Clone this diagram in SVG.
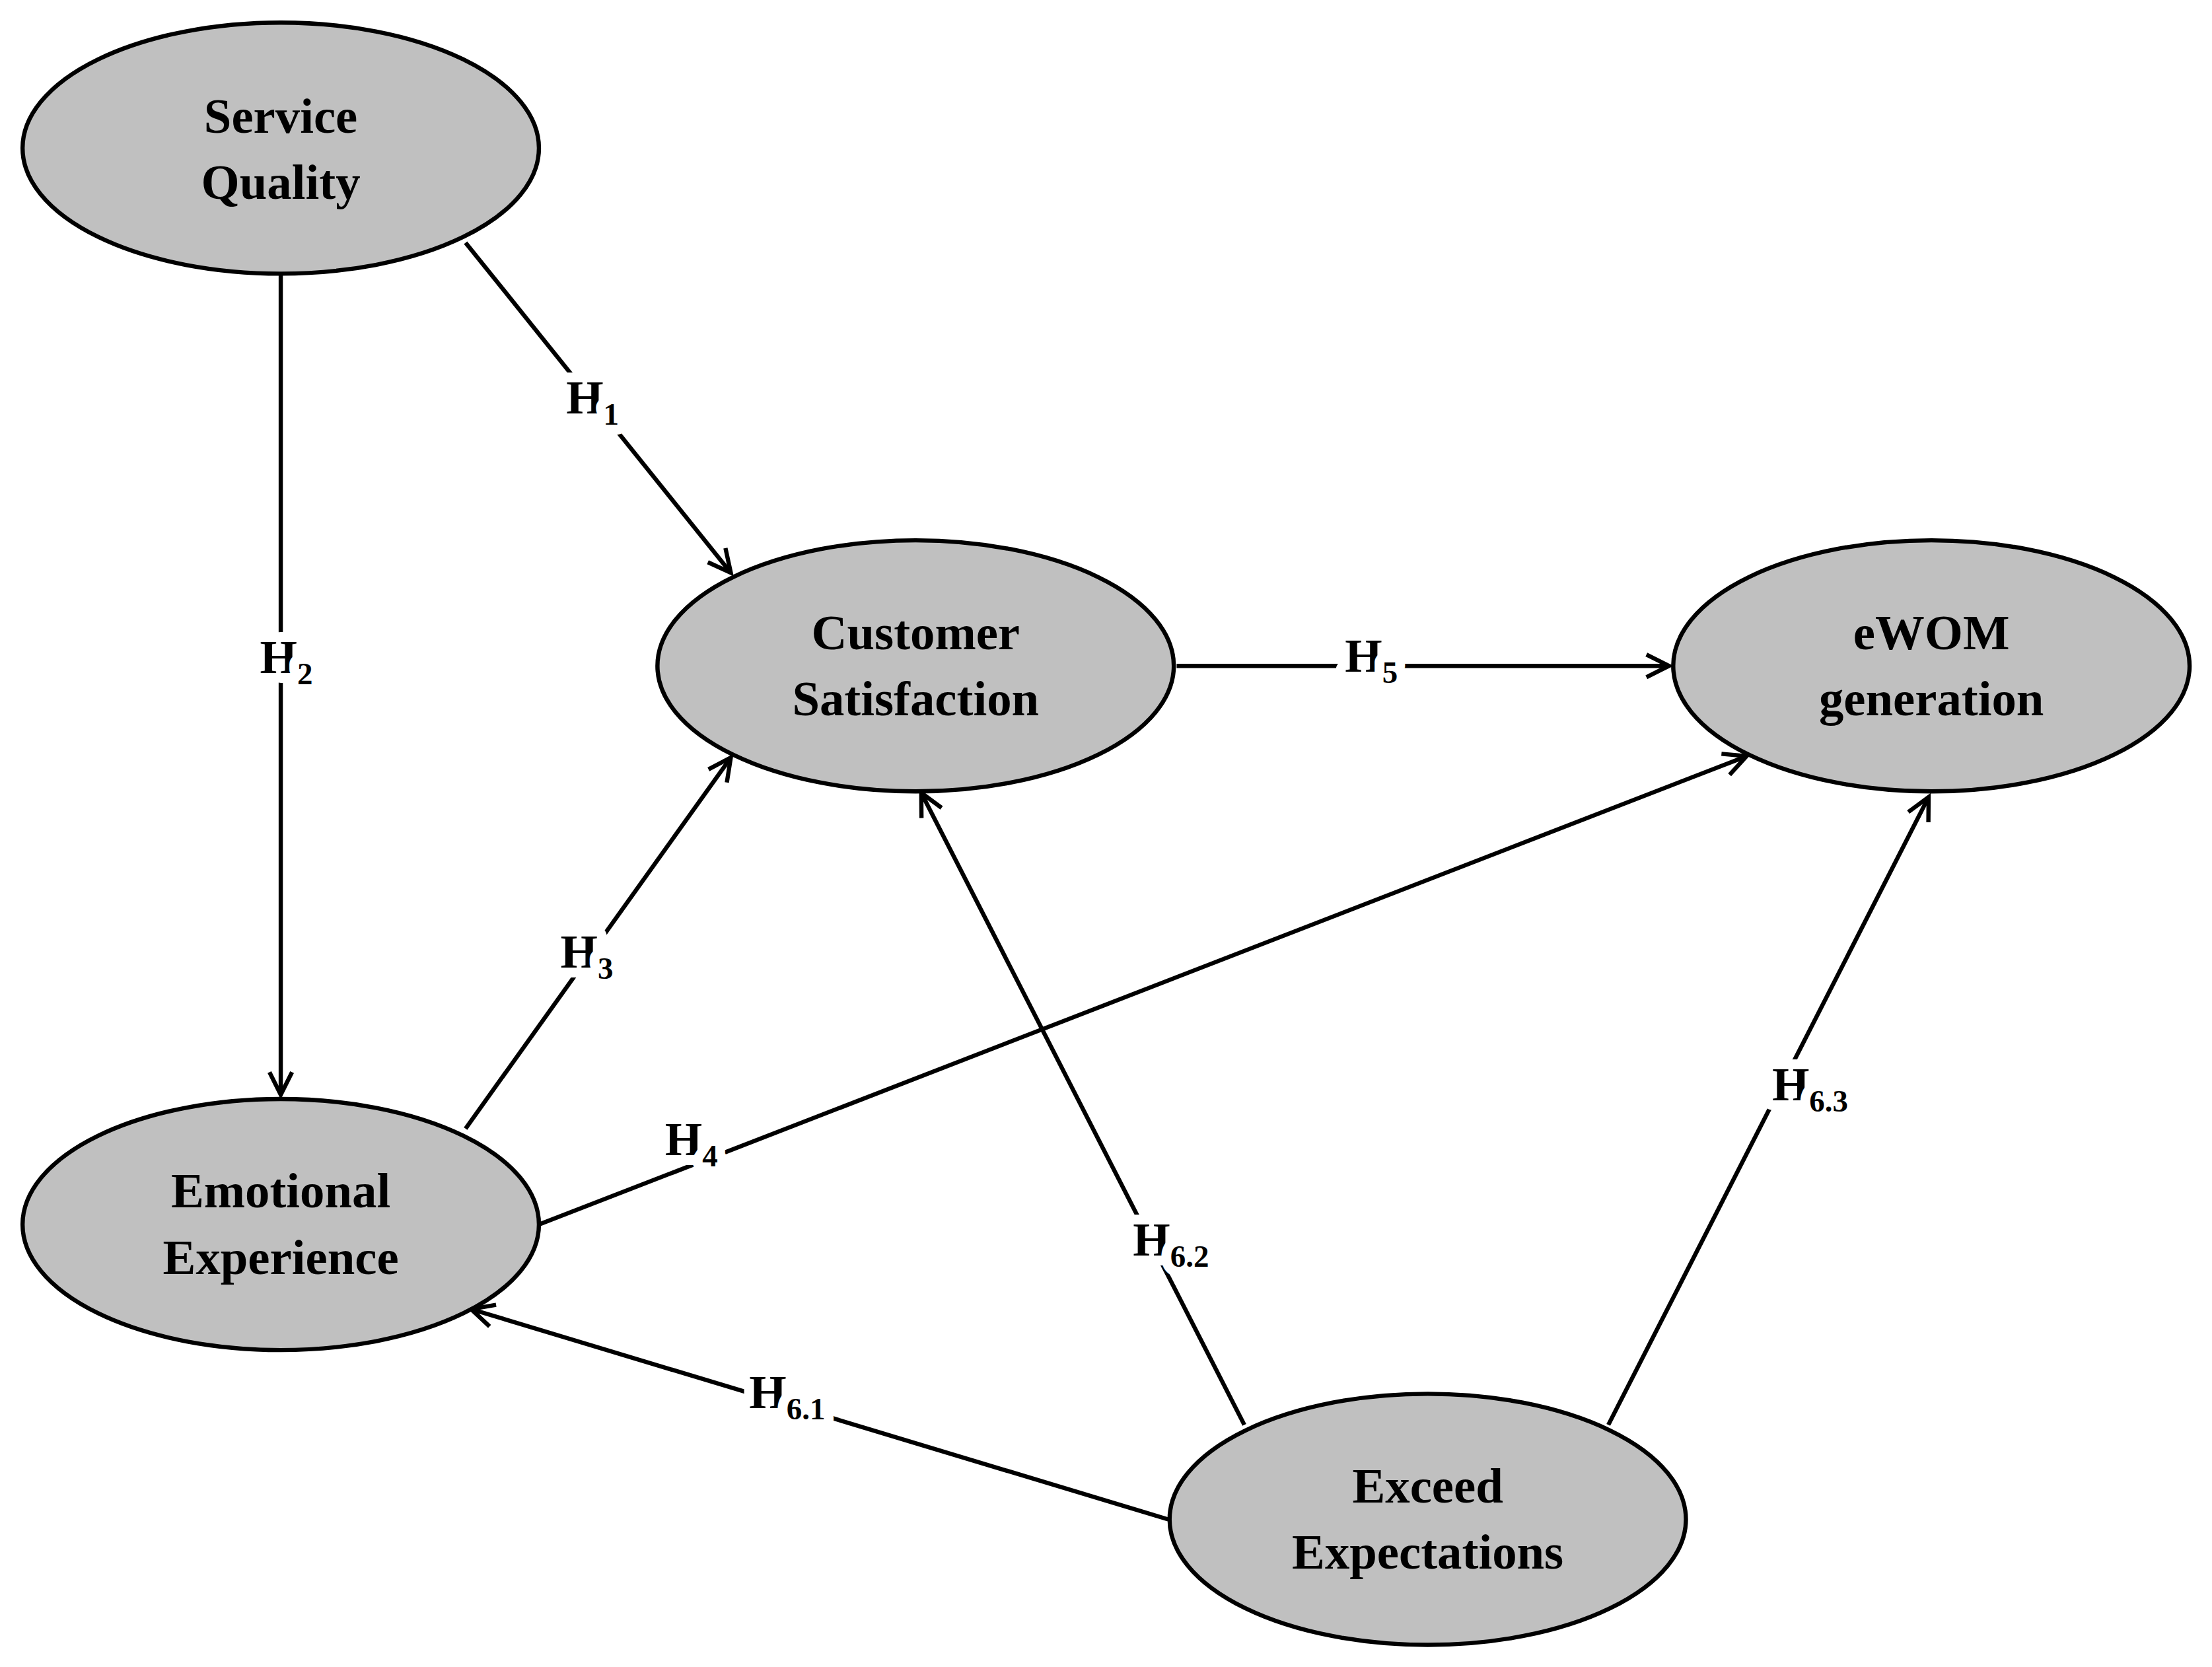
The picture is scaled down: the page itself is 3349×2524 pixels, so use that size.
<svg xmlns="http://www.w3.org/2000/svg" width="3349" height="2524" viewBox="0 0 3349 2524">
<style>
.n{fill:#c0c0c0;stroke:#000;stroke-width:3}
.t{font-family:"Liberation Serif",serif;font-weight:bold;font-size:35px;text-anchor:middle}
.c{stroke:#000;stroke-width:3;fill:none;marker-end:url(#a)}
.l{font-family:"Liberation Serif",serif;font-weight:bold;font-size:34px;text-anchor:middle;stroke:#fff;stroke-width:14;paint-order:stroke;stroke-linejoin:round}
.s{font-size:22px}
</style>
<defs><marker id="a" markerUnits="userSpaceOnUse" markerWidth="30" markerHeight="30" refX="20" refY="10" orient="auto" viewBox="0 0 30 20"><path d="M4,2 L20,10 L4,18" fill="none" stroke="#000" stroke-width="3"/></marker></defs>
<rect width="3349" height="2524" fill="#fff"/>
<g transform="scale(2.136)">
<g id="connectors">
<line class="c" x1="330" y1="172" x2="518" y2="406"/>
<line class="c" x1="199" y1="195" x2="199" y2="776"/>
<line class="c" x1="330" y1="800" x2="518" y2="537"/>
<line class="c" x1="834" y1="472" x2="1183" y2="472"/>
<line class="c" x1="382" y1="868" x2="1238" y2="536"/>
<line class="c" x1="882" y1="1010" x2="653" y2="562"/>
<line class="c" x1="1140" y1="1010" x2="1367" y2="565"/>
<line class="c" x1="828" y1="1077" x2="334" y2="928"/>
<text class="l" x="420" y="293">H<tspan class="s" dy="8">1</tspan></text>
<text class="l" x="203" y="477">H<tspan class="s" dy="8">2</tspan></text>
<text class="l" x="416" y="686">H<tspan class="s" dy="8">3</tspan></text>
<text class="l" x="490" y="819">H<tspan class="s" dy="8">4</tspan></text>
<text class="l" x="972" y="476">H<tspan class="s" dy="8">5</tspan></text>
<text class="l" x="558" y="998">H<tspan class="s" dy="8">6.1</tspan></text>
<text class="l" x="830" y="890">H<tspan class="s" dy="8">6.2</tspan></text>
<text class="l" x="1283" y="780">H<tspan class="s" dy="8">6.3</tspan></text>
</g>
<g id="sq"><ellipse class="n" cx="199" cy="105" rx="183" ry="89"/><text class="t" x="199" y="94">Service</text><text class="t" x="199" y="141">Quality</text></g>
<g id="cs"><ellipse class="n" cx="649" cy="472" rx="183" ry="89"/><text class="t" x="649" y="460">Customer</text><text class="t" x="649" y="507">Satisfaction</text></g>
<g id="ewom"><ellipse class="n" cx="1369" cy="472" rx="183" ry="89"/><text class="t" x="1369" y="460">eWOM</text><text class="t" x="1369" y="507">generation</text></g>
<g id="ee"><ellipse class="n" cx="199" cy="868" rx="183" ry="89"/><text class="t" x="199" y="856">Emotional</text><text class="t" x="199" y="903">Experience</text></g>
<g id="ex"><ellipse class="n" cx="1012" cy="1077" rx="183" ry="89"/><text class="t" x="1012" y="1065">Exceed</text><text class="t" x="1012" y="1112">Expectations</text></g>
</g>
</svg>
